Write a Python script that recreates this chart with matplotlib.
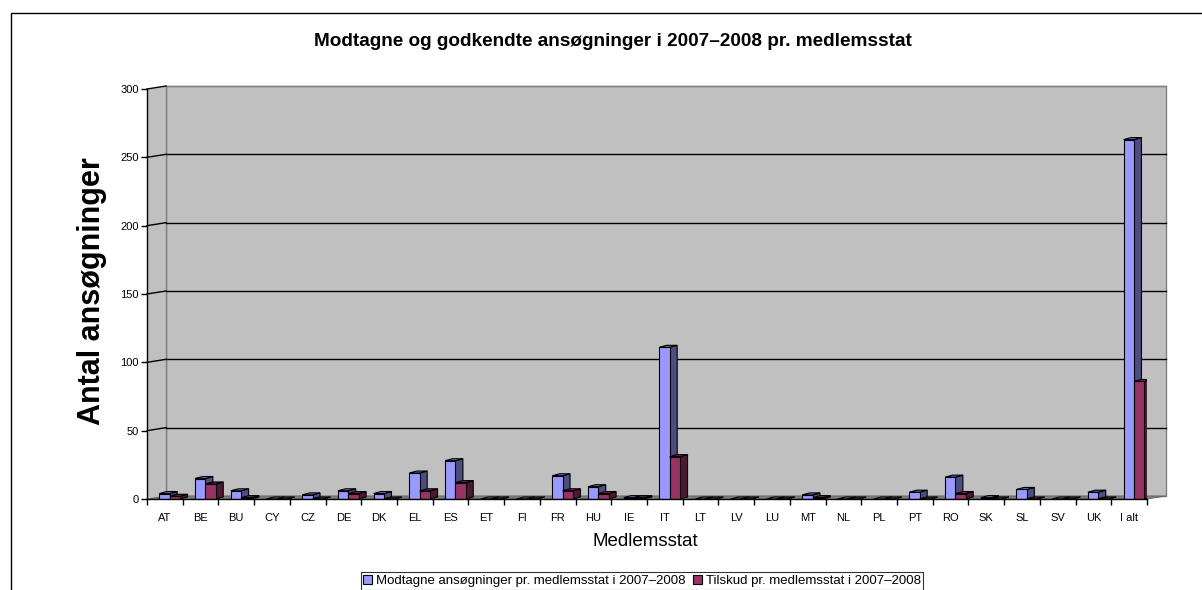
import matplotlib.pyplot as plt
from matplotlib.patches import Polygon, Rectangle

plt.rcParams['font.family'] = ['Liberation Sans', 'DejaVu Sans']

categories = ['AT', 'BE', 'BU', 'CY', 'CZ', 'DE', 'DK', 'EL', 'ES', 'ET', 'FI', 'FR',
              'HU', 'IE', 'IT', 'LT', 'LV', 'LU', 'MT', 'NL', 'PL', 'PT', 'RO', 'SK',
              'SL', 'SV', 'UK', 'I alt']
received = [4, 15, 6, 0, 3, 6, 4, 19, 28, 0, 0, 17, 9, 1, 111, 0, 0, 0, 3, 0, 0, 5,
            16, 1, 7, 0, 5, 263]
granted = [2, 11, 1, 0, 0, 4, 0, 6, 12, 0, 0, 6, 4, 1, 31, 0, 0, 0, 1, 0, 0, 0,
           4, 0, 0, 0, 0, 86]
yticks = [0, 50, 100, 150, 200, 250, 300]

W, H = 1202, 590
fig = plt.figure(figsize=(W / 100, H / 100), dpi=100)
ax = fig.add_axes([147 / W, (H - 499) / H, 1000 / W, 410 / H])
n = len(categories)
ax.set_xlim(-0.5, n - 0.5)
ax.set_ylim(0, 300)
ax.patch.set_visible(False)
for s in ['top', 'right']:
    ax.spines[s].set_visible(False)
ax.spines['left'].set_linewidth(1.0)
ax.spines['bottom'].set_linewidth(1.0)

# wall depth in data units (19 px right, 3 px up)
DX = 19 / (1000 / n)
DY = 3 / (410 / 300)
x0, x1 = -0.5, n - 0.5

# back wall, left wall, floor
ax.add_patch(Rectangle((x0 + DX, DY), n, 300, facecolor='#c0c0c0', edgecolor='#808080',
                       lw=1.0, zorder=0, clip_on=False))
ax.add_patch(Polygon([(x0, 0), (x0 + DX, DY), (x0 + DX, 300 + DY), (x0, 300)],
                     closed=True, facecolor='#c0c0c0', edgecolor='none', zorder=0, clip_on=False))
ax.add_patch(Polygon([(x0, 0), (x1, 0), (x1 + DX, DY), (x0 + DX, DY)], closed=True,
                     facecolor='#808080', edgecolor='#606060', lw=0.6, zorder=0.5, clip_on=False))
ax.plot([x0 + DX, x0 + DX], [DY, 300 + DY], color='#808080', lw=1.0, zorder=0.6, clip_on=False)
for y in yticks[1:]:
    col = 'black' if y < 300 else '#808080'
    ax.plot([x0 + DX, x1 + DX], [y + DY, y + DY], color=col, lw=1.0, zorder=0.6, clip_on=False)
    ax.plot([x0, x0 + DX], [y, y + DY], color='black', lw=1.0, zorder=0.6, clip_on=False)

# 3D-looking columns
bw = 0.29
bdx = 7.5 / (1000 / n)
bdy = 2 / (410 / 300)
series = [(received, -0.155, '#9999ff', '#4d4d80', '#7575c8',
           'Modtagne ansøgninger pr. medlemsstat i 2007–2008'),
          (granted, 0.135, '#993366', '#4d1a33', '#7a2952',
           'Tilskud pr. medlemsstat i 2007–2008')]
handles = []
for vals, off, cf, cs, ct, lab in series:
    for i, v in enumerate(vals):
        xl = i + off
        xr = xl + bw
        ax.add_patch(Polygon([(xr, 0), (xr + bdx, bdy), (xr + bdx, v + bdy), (xr, v)],
                             closed=True, facecolor=cs, edgecolor='black', lw=0.8, zorder=2))
        ax.add_patch(Polygon([(xl, v), (xr, v), (xr + bdx, v + bdy), (xl + bdx, v + bdy)],
                             closed=True, facecolor=ct, edgecolor='black', lw=0.8, zorder=2))
    bars = ax.bar([i + off for i in range(n)], vals, width=bw, align='edge', color=cf,
                  edgecolor='black', lw=0.8, zorder=2, label=lab)
    handles.append(bars)

# ticks
ax.set_xticks([i - 0.5 for i in range(n + 1)])
ax.set_xticklabels([])
ax.set_xticks(range(n), minor=True)
ax.set_xticklabels(categories, minor=True, fontsize=8)
ax.tick_params(axis='x', which='major', direction='out', length=4, width=1)
ax.tick_params(axis='x', which='minor', length=0, pad=10)
ax.set_yticks(yticks)
ax.set_yticklabels([str(y) for y in yticks], fontsize=8)
ax.tick_params(axis='y', direction='out', length=4, width=1, pad=2)

fig.text(613 / W, 1 - 42 / H, 'Modtagne og godkendte ansøgninger i 2007–2008 pr. medlemsstat',
         ha='center', va='center', fontsize=13.7, fontweight='bold')
fig.text(92 / W, 1 - 291 / H, 'Antal ansøgninger', rotation=90, ha='center', va='center',
         fontsize=22, fontweight='bold')
fig.text(645 / W, 1 - 541 / H, 'Medlemsstat', ha='center', va='center', fontsize=13.5)

leg = fig.legend(handles=handles, loc='center', bbox_to_anchor=(642 / W, 1 - 581 / H),
                 ncol=2, fontsize=9.5, frameon=True, fancybox=False, handlelength=0.7,
                 handleheight=0.7, handletextpad=0.3, columnspacing=0.5, borderpad=0.2,
                 borderaxespad=0)
leg.get_frame().set_edgecolor('black')
leg.get_frame().set_linewidth(0.8)

fig.add_artist(Rectangle((11 / W, -0.1), 1.2, 1 - 13 / H + 0.1, transform=fig.transFigure,
                         fill=False, edgecolor='black', lw=1.0))

fig.savefig('out.png', dpi=100)
